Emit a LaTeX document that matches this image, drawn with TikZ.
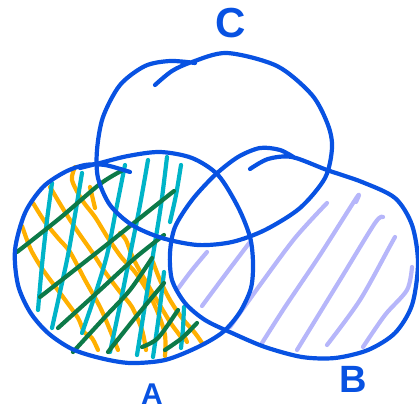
\documentclass[tikz,border=0pt]{standalone}
\usepackage{fontspec}
\setmainfont{Liberation Sans}
\setsansfont{Liberation Sans}
\definecolor{penblue}{RGB}{8,82,226}
\definecolor{penorange}{RGB}{255,176,0}
\definecolor{pencyan}{RGB}{0,180,200}
\definecolor{pengreen}{RGB}{12,122,72}
\definecolor{penlav}{RGB}{182,182,250}
\tikzset{
  outline/.style={draw=penblue, line width=4.2pt, line cap=round, line join=round},
  hatch/.style={line width=4.2pt, line cap=round, line join=round},
  orangeh/.style={hatch, draw=penorange},
  cyanh/.style={hatch, draw=pencyan},
  greenh/.style={hatch, draw=pengreen},
  lavh/.style={hatch, draw=penlav},
  lbl/.style={text=penblue, inner sep=0pt}
}
\begin{document}
\begin{tikzpicture}[x=1pt,y=-1pt]
\useasboundingbox (0,0) rectangle (419,412);
% ---- orange hatching (A only) ----
\draw[orangeh] plot[smooth] coordinates {(22,226) (27,240) (32,252) (43,270) (63,297) (78,318) (84,332) (92,338) (98,350)};
\draw[orangeh] plot[smooth] coordinates {(33,203) (45,222) (58,238) (70,252) (85,280) (100,307) (110,330) (118,350)};
\draw[orangeh] plot[smooth] coordinates {(50,187) (65,212) (78,232) (92,252) (105,272) (120,292) (132,307) (142,330) (146,350)};
\draw[orangeh] plot[smooth] coordinates {(75,167) (72,180) (82,200) (95,217) (108,238) (122,258) (135,272) (148,292) (158,313) (165,335) (165,356)};
\draw[orangeh] plot[smooth] coordinates {(90,187) (95,208)};
\draw[orangeh] plot[smooth] coordinates {(120,233) (126,240) (133,258) (145,280) (158,302) (170,322) (178,333) (183,340)};
\draw[orangeh] plot[smooth] coordinates {(153,262) (160,280) (170,300) (182,318) (195,333) (202,343)};
\draw[orangeh] plot[smooth] coordinates {(183,333) (187,342)};
% ---- cyan hatching ----
\draw[cyanh] plot[smooth] coordinates {(52,183) (47,220) (42,265) (38,310)};
\draw[cyanh] plot[smooth] coordinates {(82,173) (75,215) (68,255) (60,292) (52,328)};
\draw[cyanh] plot[smooth] coordinates {(125,165) (116,210) (107,255) (95,295) (82,333)};
\draw[cyanh] plot[smooth] coordinates {(148,160) (140,205) (130,255) (120,305) (110,352)};
\draw[cyanh] plot[smooth] coordinates {(167,157) (161,205) (153,255) (145,305) (137,355)};
\draw[cyanh] plot[smooth] coordinates {(181,165) (176,195) (170,222)};
\draw[cyanh] plot[smooth] coordinates {(164,272) (159,315) (153,357)};
\draw[cyanh] plot[smooth] coordinates {(184,307) (183,328) (181,348)};
% ---- green hatching ----
\draw[greenh] plot[smooth] coordinates {(17,252) (60,218) (100,184) (123,170)};
\draw[greenh] plot[smooth] coordinates {(40,297) (100,250) (140,218) (174,191)};
\draw[greenh] plot[smooth] coordinates {(58,328) (100,290) (135,258) (164,235)};
\draw[greenh] plot[smooth] coordinates {(73,352) (105,317) (130,290) (152,258)};
\draw[greenh] plot[smooth] coordinates {(108,352) (135,318) (164,283)};
\draw[greenh] plot[smooth] coordinates {(142,347) (158,338) (178,310)};
\draw[greenh] plot[smooth] coordinates {(165,350) (182,338) (197,323)};
% ---- lavender hatching (B) ----
\draw[lavh] plot[smooth] coordinates {(207,252) (192,270) (177,290)};
\draw[lavh] plot[smooth] coordinates {(250,242) (225,275) (202,306)};
\draw[lavh] plot[smooth] coordinates {(327,203) (295,238) (260,285) (230,327)};
\draw[lavh] plot[smooth] coordinates {(356,202) (357,197) (320,255) (285,307) (262,343)};
\draw[lavh] plot[smooth] coordinates {(383,217) (375,223) (340,280) (297,350)};
\draw[lavh] plot[smooth] coordinates {(395,237) (390,246) (360,300) (327,345)};
\draw[lavh] plot[smooth] coordinates {(412,267) (407,290) (385,315) (363,347)};
% ---- outlines ----
% C
\draw[outline] plot[smooth] coordinates {(155,85) (172,71) (192,62) (227,53) (277,66) (312,95) (328,125) (332,148) (325,178) (300,208) (265,230) (232,242) (198,245) (162,238) (132,225) (110,205) (98,178) (97,150) (103,117) (120,85) (145,66) (170,61) (195,63)};
% A
\draw[outline] plot[smooth] coordinates {(130,172) (105,165) (85,165) (65,172) (43,187) (25,213) (15,250) (18,285) (30,312) (48,333) (72,349) (100,358) (130,363) (165,360) (198,347) (223,332) (240,312) (251,288) (253,263) (250,237) (238,207) (218,175) (192,158) (160,152) (128,156) (100,163) (80,168)};
% B
\draw[outline] plot[smooth] coordinates {(250,169) (268,159) (292,157) (327,170) (362,182) (395,198) (412,225) (418,263) (412,305) (395,333) (368,350) (335,358) (302,357) (265,347) (232,333) (205,320) (185,303) (172,280) (170,253) (175,227) (192,200) (215,175) (238,157) (260,148) (280,150) (295,158)};
% ---- labels ----
\node[lbl, font=\bfseries\fontsize{42}{42}\selectfont] (labC) at (231,23) {C};
\node[lbl, font=\bfseries\fontsize{30}{30}\selectfont] (labA) at (152,394) {A};
\node[lbl, font=\bfseries\fontsize{38}{38}\selectfont] (labB) at (353,379) {B};
\end{tikzpicture}
\end{document}
